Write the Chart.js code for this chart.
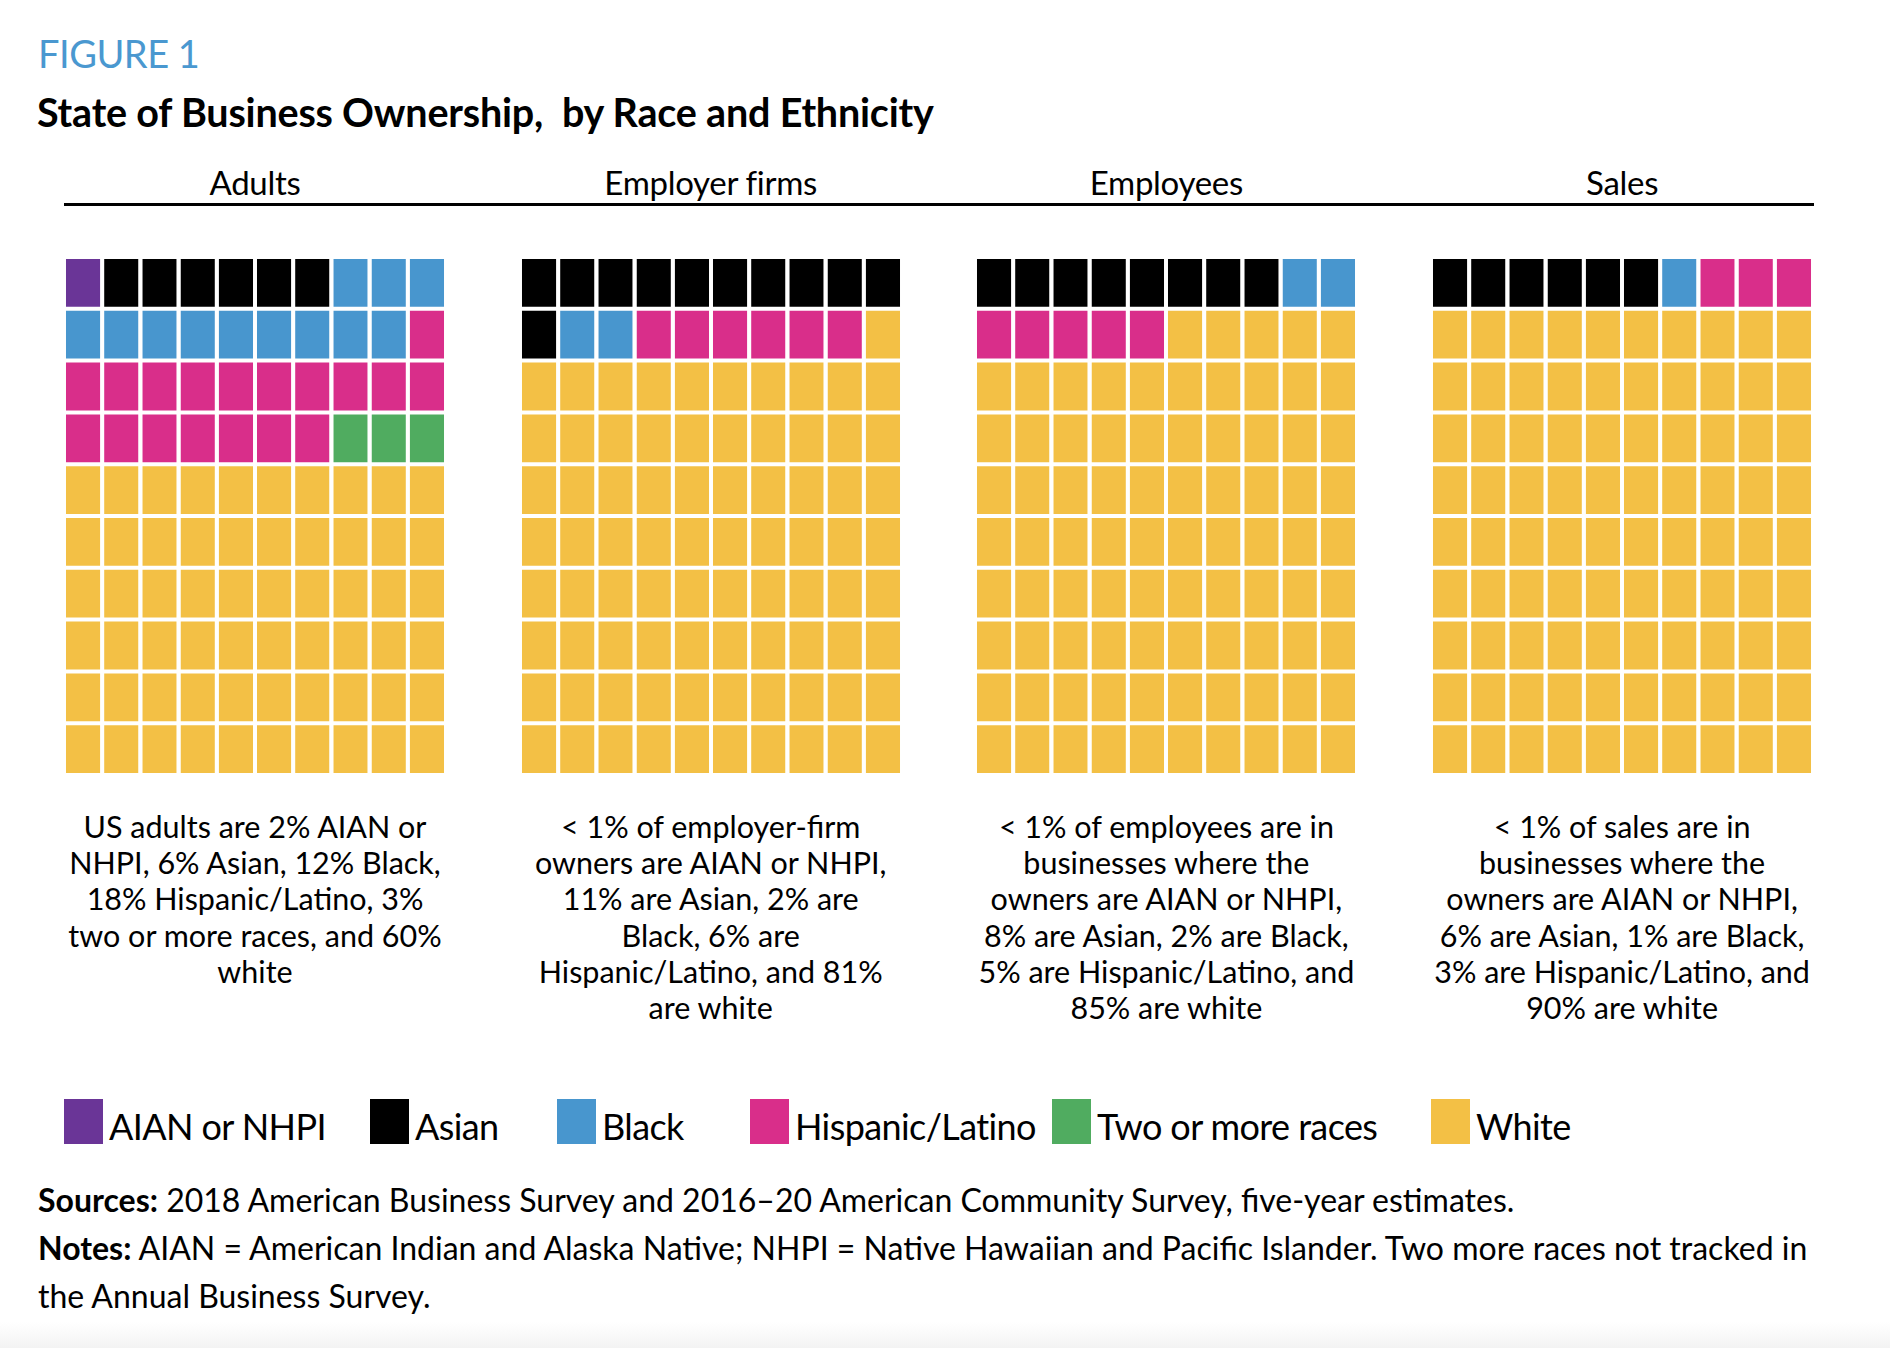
<!DOCTYPE html>
<html lang="en">

<head>
  <meta charset="UTF-8">
  <title>State of Business Ownership, by Race and Ethnicity</title>

  <script src="https://cdnjs.cloudflare.com/ajax/libs/Chart.js/4.3.0/chart.umd.js"></script>

  <style>
    body {
      margin: 0;
      width: 1890px;
      height: 1348px;
      position: relative;
      overflow: hidden;
      background: #fff;
      color: #000;
      font-family: Lato, "Open Sans", sans-serif;
    }

    .figure-label {
      position: absolute;
      left: 38px;
      top: 30px;
      font-size: 38px;
      color: #4a98d0;
      letter-spacing: -0.5px;
    }

    .title {
      position: absolute;
      left: 37px;
      top: 88px;
      font-size: 39.5px;
      font-weight: bold;
      letter-spacing: -0.2px;
      white-space: pre;
    }

    .panel-head {
      position: absolute;
      top: 162px;
      width: 382px;
      text-align: center;
      font-size: 33px;
      letter-spacing: -0.3px;
    }

    .rule {
      position: absolute;
      left: 64px;
      top: 203px;
      width: 1750px;
      height: 3px;
      background: #000;
    }

    .waffle {
      position: absolute;
      top: 257px;
      width: 382px;
      height: 518px;
    }

    .desc {
      position: absolute;
      top: 808px;
      width: 440px;
      text-align: center;
      font-size: 30.5px;
      line-height: 36.2px;
    }

    .legend {
      position: absolute;
      left: 64px;
      top: 1099px;
      display: flex;
    }

    .legend-item {
      display: flex;
      align-items: flex-end;
      font-size: 36px;
      letter-spacing: -0.6px;
      line-height: 36px;
    }

    .legend-item:nth-child(1) { width: 306px; }
    .legend-item:nth-child(2) { width: 187px; }
    .legend-item:nth-child(3) { width: 193px; }
    .legend-item:nth-child(4) { width: 302px; }
    .legend-item:nth-child(5) { width: 379px; }

    .swatch {
      width: 39px;
      height: 45px;
      margin-right: 6px;
      flex: none;
    }

    .footnote {
      position: absolute;
      left: 38px;
      top: 1176px;
      font-size: 32px;
      line-height: 48px;
    }

    .bottom-band {
      position: absolute;
      left: 0;
      bottom: 0;
      width: 100%;
      height: 26px;
      background: linear-gradient(#ffffff, #f3f3f3);
    }
  </style>
</head>

<body>

  <div class="figure-label">FIGURE 1</div>
  <div class="title">State of Business Ownership,  by Race and Ethnicity</div>
  <div class="rule"></div>

  <div id="panels"></div>

  <div class="legend" id="legend"></div>

  <div class="footnote">
    <b>Sources:</b> 2018 American Business Survey and 2016–20 American Community Survey, five-year estimates.<br>
    <b>Notes:</b> AIAN = American Indian and Alaska Native; NHPI = Native Hawaiian and Pacific Islander. Two more races not tracked in<br>
    the Annual Business Survey.
  </div>

  <div class="bottom-band"></div>

  <script>
    // groups, in the order the squares are filled
    const groups = ['AIAN or NHPI', 'Asian', 'Black', 'Hispanic/Latino', 'Two or more races', 'White'];
    const groupColors = ['#6a3597', '#000000', '#4896ce', '#d92e8a', '#50ac60', '#f3c045'];

    const panelNames = ['Adults', 'Employer firms', 'Employees', 'Sales'];

    // squares out of 100 per group, as drawn in each waffle
    const adults = [1, 6, 12, 18, 3, 60];
    const employerFirms = [0, 11, 2, 6, 0, 81];
    const employees = [0, 8, 2, 5, 0, 85];
    const sales = [0, 6, 1, 3, 0, 90];

    const panelCounts = [adults, employerFirms, employees, sales];

    const panelNotes = [
      ['US adults are 2% AIAN or', 'NHPI, 6% Asian, 12% Black,', '18% Hispanic/Latino, 3%', 'two or more races, and 60%', 'white'],
      ['< 1% of employer-firm', 'owners are AIAN or NHPI,', '11% are Asian, 2% are', 'Black, 6% are', 'Hispanic/Latino, and 81%', 'are white'],
      ['< 1% of employees are in', 'businesses where the', 'owners are AIAN or NHPI,', '8% are Asian, 2% are Black,', '5% are Hispanic/Latino, and', '85% are white'],
      ['< 1% of sales are in', 'businesses where the', 'owners are AIAN or NHPI,', '6% are Asian, 1% are Black,', '3% are Hispanic/Latino, and', '90% are white']
    ];

    const columns = ['1', '2', '3', '4', '5', '6', '7', '8', '9', '10'];

    // one colour per square, left to right, top to bottom
    function squareColors(counts) {
      const out = [];
      counts.forEach((n, i) => {
        for (let k = 0; k < n; k++) out.push(groupColors[i]);
      });
      return out;
    }

    function createWaffle(canvas, counts) {
      const colors = squareColors(counts);
      const rows = columns.length;
      const datasets = [];
      for (let r = 0; r < rows; r++) {
        datasets.push({
          data: columns.map(() => 1),
          backgroundColor: colors.slice(r * columns.length, (r + 1) * columns.length),
          borderColor: '#ffffff',
          borderWidth: { top: 2, bottom: 2, left: 0, right: 0 },
          borderSkipped: false,
          barPercentage: 0.9,
          categoryPercentage: 1
        });
      }

      new Chart(canvas, {
        type: 'bar',
        data: { labels: columns, datasets: datasets },
        options: {
          responsive: false,
          animation: false,
          layout: { padding: 0 },
          plugins: { legend: { display: false }, tooltip: { enabled: false } },
          scales: {
            x: { stacked: true, display: false },
            y: { stacked: true, display: false, reverse: true, min: 0, max: rows }
          }
        }
      });
    }

    const panelsEl = document.getElementById('panels');
    panelNames.forEach((name, i) => {
      const left = 64 + i * 455.7;

      const head = document.createElement('div');
      head.className = 'panel-head';
      head.style.left = left + 'px';
      head.textContent = name;
      panelsEl.appendChild(head);

      const box = document.createElement('div');
      box.className = 'waffle';
      box.style.left = left + 'px';
      const canvas = document.createElement('canvas');
      canvas.width = 382;
      canvas.height = 518;
      box.appendChild(canvas);
      panelsEl.appendChild(box);

      const desc = document.createElement('div');
      desc.className = 'desc';
      desc.style.left = (left - 29) + 'px';
      panelNotes[i].forEach((line, j) => {
        if (j) desc.appendChild(document.createElement('br'));
        desc.appendChild(document.createTextNode(line));
      });
      panelsEl.appendChild(desc);

      createWaffle(canvas, panelCounts[i]);
    });

    const legendEl = document.getElementById('legend');
    groups.forEach((g, i) => {
      const item = document.createElement('div');
      item.className = 'legend-item';
      const sw = document.createElement('span');
      sw.className = 'swatch';
      sw.style.background = groupColors[i];
      item.appendChild(sw);
      item.appendChild(document.createTextNode(g));
      legendEl.appendChild(item);
    });
  </script>
</body>

</html>
